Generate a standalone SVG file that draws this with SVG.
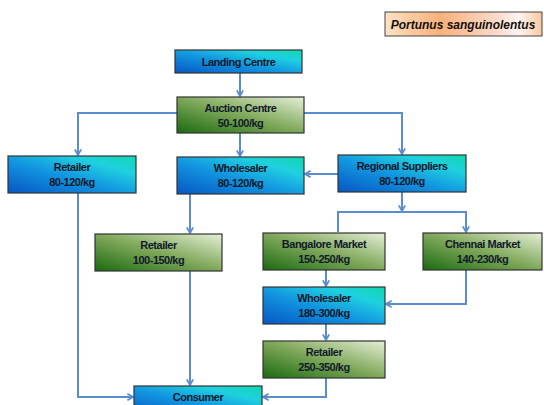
<svg xmlns="http://www.w3.org/2000/svg" width="544" height="405" viewBox="0 0 544 405">
<defs>
<linearGradient id="gb" x1="0" y1="1" x2="1" y2="0">
<stop offset="0" stop-color="#0656c4"/><stop offset="0.45" stop-color="#1296e0"/><stop offset="0.75" stop-color="#1fd0e0"/><stop offset="1" stop-color="#10d8b0"/>
</linearGradient>
<linearGradient id="gg" x1="0" y1="1" x2="1" y2="0">
<stop offset="0" stop-color="#1a6a10"/><stop offset="0.5" stop-color="#7fa85a"/><stop offset="1" stop-color="#e6efd8"/>
</linearGradient>
<linearGradient id="go" x1="0" y1="0" x2="1" y2="0">
<stop offset="0" stop-color="#fde2c4"/><stop offset="0.35" stop-color="#f8b07a"/><stop offset="0.7" stop-color="#fbd8c8"/><stop offset="0.85" stop-color="#fff4f0"/><stop offset="1" stop-color="#f9c8a0"/>
</linearGradient>
<marker id="ah" viewBox="0 0 10 10" refX="8.5" refY="5" markerWidth="8" markerHeight="8" orient="auto" markerUnits="userSpaceOnUse">
<path d="M1.5,1 L8.5,5 L1.5,9" fill="none" stroke="#5b8bd0" stroke-width="2.2"/>
</marker>
<style>
.b{fill:url(#gb);stroke:#333;stroke-width:1.2}
.g{fill:url(#gg);stroke:#333;stroke-width:1.2}
.t{font-family:"Liberation Sans",Arial,sans-serif;font-weight:bold;font-size:11px;letter-spacing:-0.5px;fill:#111a2a;text-anchor:middle}
.c{fill:none;stroke:#5b8bd0;stroke-width:2;marker-end:url(#ah)}
</style>
</defs>
<g id="title">
<rect x="385" y="12" width="157" height="24" fill="url(#go)" stroke="#444" stroke-width="1"/>
<text x="463" y="28.5" font-family="Liberation Sans,sans-serif" font-weight="bold" font-style="italic" font-size="12" fill="#111" text-anchor="middle">Portunus sanguinolentus</text>
</g>
<g id="connectors">
<path class="c" d="M240,73 V96"/>
<path class="c" d="M177,113 H78 V155"/>
<path class="c" d="M240,133 V156"/>
<path class="c" d="M304,113 H402 V154"/>
<path class="c" d="M338,174 H305"/>
<path class="c" d="M402,192 V211"/>
<path class="c" d="M338,232 V212 H466 V232"/>
<path class="c" d="M190,194 V233"/>
<path class="c" d="M78,193 V397 H133"/>
<path class="c" d="M190,271 V385"/>
<path class="c" d="M326,270 V286"/>
<path class="c" d="M466,270 V304 H386"/>
<path class="c" d="M326,324 V340"/>
<path class="c" d="M326,378 V397 H263"/>
</g>
<g id="landing"><rect class="b" x="175" y="50" width="127" height="23"/><text class="t" x="238.5" y="65.5">Landing Centre</text></g>
<g id="auction"><rect class="g" x="177" y="97" width="127" height="36"/><text class="t" x="240.5" y="112">Auction Centre</text><text class="t" x="240.5" y="127">50-100/kg</text></g>
<g id="retailer1"><rect class="b" x="8" y="156" width="128" height="37"/><text class="t" x="72" y="171">Retailer</text><text class="t" x="72" y="186">80-120/kg</text></g>
<g id="wholesaler1"><rect class="b" x="177" y="157" width="127" height="37"/><text class="t" x="240.5" y="172">Wholesaler</text><text class="t" x="240.5" y="187">80-120/kg</text></g>
<g id="regional"><rect class="b" x="338" y="155" width="128" height="37"/><text class="t" x="402" y="170">Regional Suppliers</text><text class="t" x="402" y="185">80-120/kg</text></g>
<g id="retailer2"><rect class="g" x="95" y="234" width="127" height="37"/><text class="t" x="158.5" y="249">Retailer</text><text class="t" x="158.5" y="264">100-150/kg</text></g>
<g id="bangalore"><rect class="g" x="263" y="233" width="122" height="37"/><text class="t" x="324" y="248">Bangalore Market</text><text class="t" x="324" y="263">150-250/kg</text></g>
<g id="chennai"><rect class="g" x="423" y="233" width="119" height="37"/><text class="t" x="482.5" y="248">Chennai Market</text><text class="t" x="482.5" y="263">140-230/kg</text></g>
<g id="wholesaler2"><rect class="b" x="263" y="287" width="122" height="37"/><text class="t" x="324" y="302">Wholesaler</text><text class="t" x="324" y="317">180-300/kg</text></g>
<g id="retailer3"><rect class="g" x="263" y="341" width="122" height="37"/><text class="t" x="324" y="356">Retailer</text><text class="t" x="324" y="371">250-350/kg</text></g>
<g id="consumer"><rect class="b" x="134" y="386" width="128" height="30"/><text class="t" x="198" y="401">Consumer</text></g>
</svg>
